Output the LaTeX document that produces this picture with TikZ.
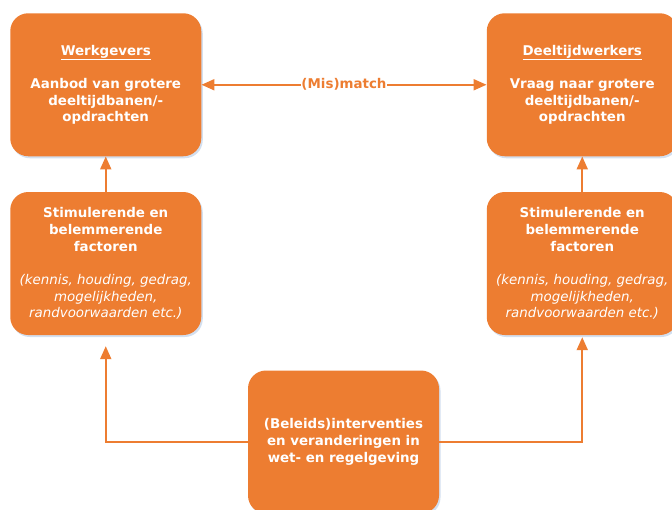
\documentclass[tikz,border=0pt]{standalone}
\usepackage{fontspec}
\setmainfont{DejaVu Sans}
\usetikzlibrary{arrows.meta,shadows}
\definecolor{orng}{RGB}{237,125,49}
\definecolor{shadowblue}{RGB}{200,215,235}
\begin{document}
\begin{tikzpicture}[x=1pt,y=1pt,
  box/.style={rectangle, rounded corners=18pt, fill=orng, minimum width=191pt,
    minimum height=143pt, text=white, align=center, inner sep=0pt,
    font=\fontsize{13.4}{16.7}\selectfont\bfseries,
    drop shadow={shadow xshift=1.5pt, shadow yshift=-2pt, fill=shadowblue, opacity=0.8}},
  arr/.style={draw=orng, line width=2pt, -{Triangle[length=13pt,width=11pt]}},
  lbl/.style={fill=white, inner sep=0.5pt, text=orng,
    font=\fontsize{13.4}{16.7}\selectfont\bfseries}]
\useasboundingbox (0,0) rectangle (672,-509);
\clip (0,0) rectangle (672,-509);
\node[box] (tl) at (105.75,-84.75) {\underline{Werkgevers}\\[16.7pt]Aanbod van grotere\\deeltijdbanen/-\\opdrachten};
\node[box] (tr) at (582.25,-84.75) {\underline{Deeltijdwerkers}\\[16.7pt]Vraag naar grotere\\deeltijdbanen/-\\opdrachten};
\node[box] (ml) at (105.75,-263.5) {Stimulerende en\\belemmerende\\factoren\\[16.7pt]{\mdseries\itshape (kennis, houding, gedrag,}\\{\mdseries\itshape mogelijkheden,}\\{\mdseries\itshape randvoorwaarden etc.)}};
\node[box] (mr) at (582.25,-263.5) {Stimulerende en\\belemmerende\\factoren\\[16.7pt]{\mdseries\itshape (kennis, houding, gedrag,}\\{\mdseries\itshape mogelijkheden,}\\{\mdseries\itshape randvoorwaarden etc.)}};
\node[box] (bot) at (343.5,-442) {(Beleids)interventies\\en veranderingen in\\wet- en regelgeving};
\coordinate (lend) at ([yshift=-11pt]ml.south);
\coordinate (rend) at ([yshift=-2pt]mr.south);
\draw[arr] (ml.north) -- (tl.south);
\draw[arr] (mr.north) -- (tr.south);
\draw[arr] (bot.west) -| (lend);
\draw[arr] (bot.east) -| (rend);
\draw[arr, {Triangle[length=13pt,width=11pt]}-{Triangle[length=13pt,width=11pt]}] (tl.east) -- node[lbl] (mm) {(Mis)match} (tl.east -| tr.west);
\end{tikzpicture}
\end{document}
